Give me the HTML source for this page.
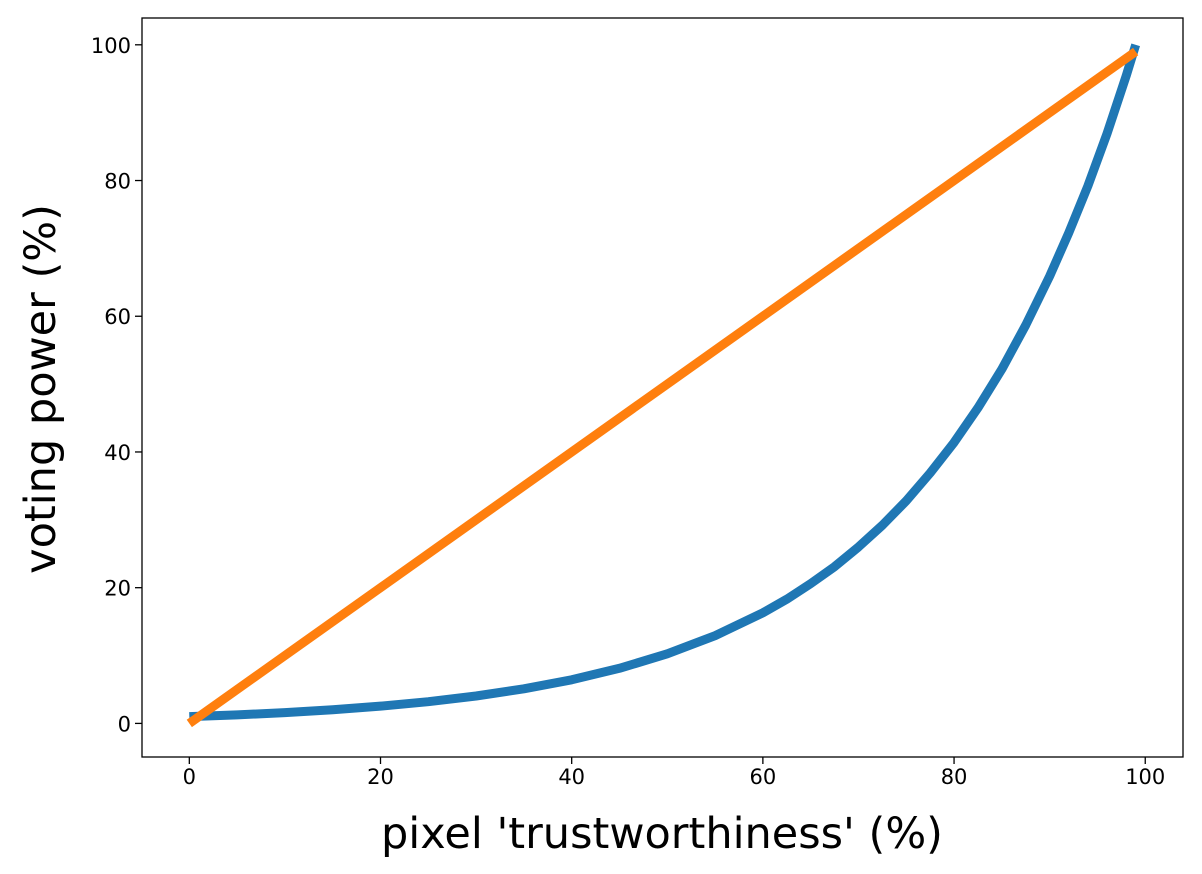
<!DOCTYPE html>
<html><head><meta charset="utf-8"><style>
html,body{margin:0;padding:0;background:#fff;}
svg{display:block;font-family:"DejaVu Sans","Liberation Sans",sans-serif;}
</style></head><body>
<svg id="chart" width="1202" height="874" viewBox="0 0 1202 874"></svg>
<script>
const xTicks = [0, 20, 40, 60, 80, 100];
const yTicks = [0, 20, 40, 60, 80, 100];
const blueX = [0, 5, 10, 15, 20, 25, 30, 35, 40, 45, 50, 55, 60, 62.5, 65, 67.5, 70, 72.5, 75, 77.5, 80, 82.5, 85, 87.5, 90, 92, 94, 96, 98, 99];
const blueY = [1, 1.26, 1.59, 2.01, 2.54, 3.2, 4.04, 5.1, 6.43, 8.12, 10.25, 12.93, 16.3, 18.3, 20.6, 23.1, 26.0, 29.2, 32.8, 36.9, 41.4, 46.5, 52.2, 58.7, 65.9, 72.3, 79.2, 86.9, 95.4, 100];
const orangeX = [0, 99];
const orangeY = [0, 99];

const L = 142, R = 1183, T = 18, B = 757;
const xMin = -4.95, xMax = 103.95, yMin = -4.95, yMax = 103.95;
const sx = v => L + (v - xMin) / (xMax - xMin) * (R - L);
const sy = v => B - (v - yMin) / (yMax - yMin) * (B - T);
const NS = "http://www.w3.org/2000/svg";
const svg = document.getElementById("chart");
function mk(tag, attrs, parent) {
  const e = document.createElementNS(NS, tag);
  for (const k in attrs) e.setAttribute(k, attrs[k]);
  (parent || svg).appendChild(e);
  return e;
}
function series(xs, ys, color, name) {
  const p = mk("polyline", {points: xs.map((x, i) => sx(x) + "," + sy(ys[i])).join(" "), fill: "none", stroke: color, "stroke-width": 9, "stroke-linejoin": "round", "stroke-linecap": "butt"});
  
  
}
series(blueX, blueY, "#1f77b4", "blue-curve");
series(orangeX, orangeY, "#ff7f0e", "orange-line");

const frame = mk("rect", {x: L, y: T, width: R - L, height: B - T, fill: "none", stroke: "#000", "stroke-width": 1.3});



xTicks.forEach(v => {
  const x = sx(v);
  mk("line", {x1: x, y1: B, x2: x, y2: B + 7, stroke: "#000", "stroke-width": 1.3});
  const t = mk("text", {x: x, y: B + 27, "text-anchor": "middle", "font-size": 21, fill: "#000"});
  t.textContent = v;
  
  
});
yTicks.forEach(v => {
  const y = sy(v);
  mk("line", {x1: L - 7, y1: y, x2: L, y2: y, stroke: "#000", "stroke-width": 1.3});
  const t = mk("text", {x: L - 11, y: y + 8, "text-anchor": "end", "font-size": 21, fill: "#000"});
  t.textContent = v;
  
  
});
const xl = mk("text", {x: 662, y: 848, "text-anchor": "middle", "font-size": 43, fill: "#000"});
xl.textContent = "pixel 'trustworthiness' (%)";


const yl = mk("text", {x: 0, y: 0, "text-anchor": "middle", "font-size": 43, fill: "#000", transform: "translate(55,389) rotate(-90)"});
yl.textContent = "voting power (%)";


</script>
</body></html>
